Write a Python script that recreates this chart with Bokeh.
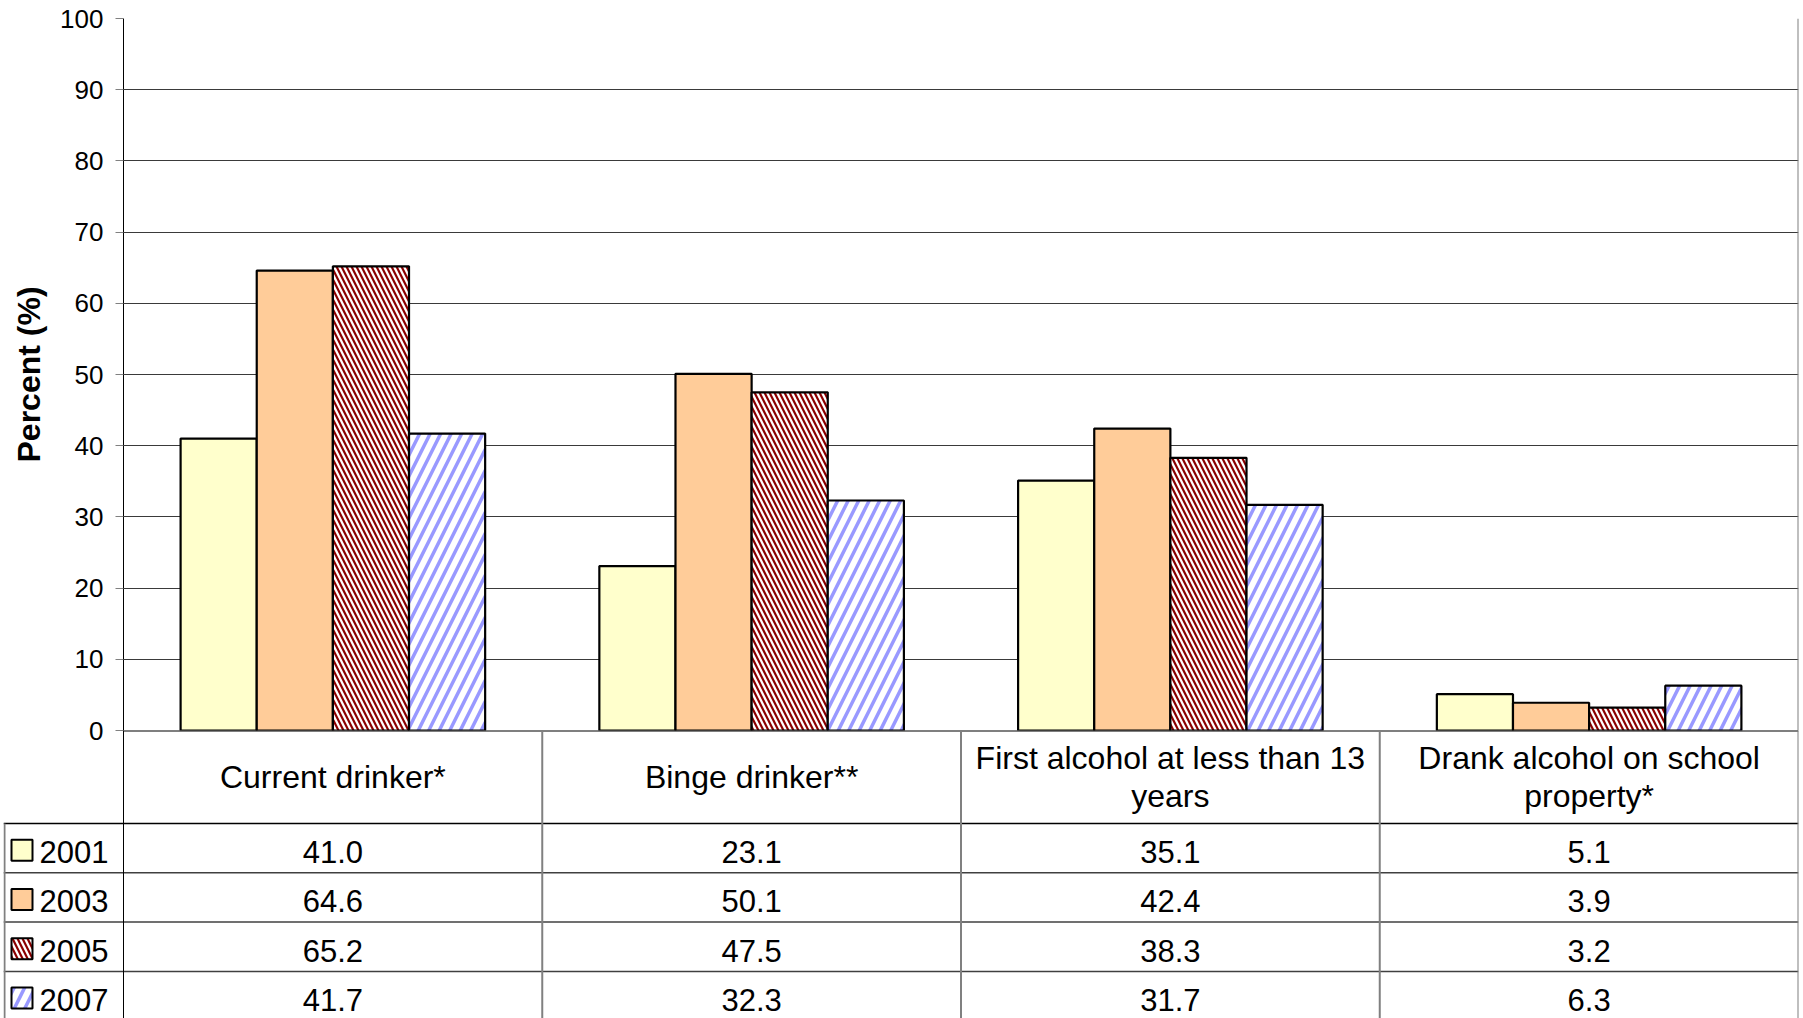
from bokeh.plotting import figure
from bokeh.models import Range1d, FactorRange, ColumnDataSource, FixedTicker, Span
from bokeh.transform import dodge
from bokeh.embed import file_html
from bokeh.resources import INLINE
from bokeh.core.properties import value

# ---------------- data ----------------
categories = ["Current drinker*", "Binge drinker**",
              "First alcohol at less than 13 years", "Drank alcohol on school property*"]
header_labels = ["Current drinker*", "Binge drinker**",
                 "First alcohol at less than 13\nyears", "Drank alcohol on school\nproperty*"]
years = ["2001", "2003", "2005", "2007"]
v2001 = [41.0, 23.1, 35.1, 5.1]
v2003 = [64.6, 50.1, 42.4, 3.9]
v2005 = [65.2, 47.5, 38.3, 3.2]
v2007 = [41.7, 32.3, 31.7, 6.3]
y_ticks = list(range(0, 101, 10))
y_label = "Percent (%)"

series = {"2001": v2001, "2003": v2003, "2005": v2005, "2007": v2007}

# ---------------- styles ----------------
FONT = "Liberation Sans"
styles = {
    "2001": dict(fill_color="#FFFFCC"),
    "2003": dict(fill_color="#FFCC99"),
    "2005": dict(fill_color="white", hatch_pattern="\\", hatch_color="#8B0000",
                 hatch_scale=10, hatch_weight=2.2),
    "2007": dict(fill_color="white", hatch_pattern="/", hatch_color="#9999FF",
                 hatch_scale=21, hatch_weight=3.5),
}

W = 1803
BOT = 16                 # room below chart frame for the "0" tick label
H1 = 730 + BOT
H2 = 288
BW = 1.0 / 5.5           # bar width in category units (gap width 150%)
offsets = [(-1.5 + j) * BW for j in range(len(years))]

src = ColumnDataSource(dict(cat=categories, **series))

# ---------------- chart ----------------
p = figure(width=W, height=H1,
           x_range=FactorRange(factors=categories, range_padding=0),
           y_range=Range1d(0, 100),
           output_backend="svg", toolbar_location=None,
           x_axis_location=None,
           min_border_left=123, min_border_right=5,
           min_border_top=18, min_border_bottom=BOT)
p.outline_line_color = None
p.background_fill_color = "white"
p.border_fill_color = "white"

p.ygrid.ticker = FixedTicker(ticks=y_ticks)
p.ygrid.grid_line_color = "#3a3a3a"
p.ygrid.grid_line_width = 1
p.xgrid.visible = False

for j, yr in enumerate(years):
    p.vbar(x=dodge("cat", offsets[j], range=p.x_range), top=yr, bottom=0,
           width=BW, source=src, line_color="black", line_width=2.2,
           **styles[yr])

p.add_layout(Span(location=4, dimension="height", line_color="#808080", line_width=2))

ax = p.yaxis[0]
ax.ticker = FixedTicker(ticks=y_ticks)
ax.axis_label = y_label
ax.axis_label_text_font = FONT
ax.axis_label_text_font_style = "bold"
ax.axis_label_text_font_size = "32px"
ax.axis_label_text_color = "black"
ax.axis_label_standoff = 10
ax.major_label_text_font = FONT
ax.major_label_text_font_size = "26px"
ax.major_label_text_color = "black"
ax.major_label_standoff = 12
ax.major_tick_out = 8
ax.major_tick_in = 0
ax.minor_tick_out = 0
ax.minor_tick_in = 0
ax.major_tick_line_color = "#808080"
ax.axis_line_color = "black"

# ---------------- data table ----------------
PXU = (W - 123 - 5) / 4.0      # pixels per category
LEG = 120 / PXU                # legend column width
ROW = 49.3
HDR = 93 / ROW
TXT_DY = 4 / ROW               # text sits slightly below row centre

t = figure(width=W, height=H2,
           x_range=Range1d(-LEG, 4), y_range=Range1d(-H2 / ROW, 0),
           output_backend="svg", toolbar_location=None,
           x_axis_location=None, y_axis_location=None,
           min_border_left=3, min_border_right=5,
           min_border_top=0, min_border_bottom=0,
           margin=(-BOT, 0, 0, 0))
t.outline_line_color = None
t.grid.visible = False
t.background_fill_color = None
t.border_fill_color = None

bottom = -H2 / ROW
n = len(categories)
# horizontal lines
t.segment(x0=[0], y0=[0], x1=[n], y1=[0], line_color="black", line_width=2)
t.segment(x0=[-LEG], y0=[-HDR], x1=[n], y1=[-HDR], line_color="black", line_width=1.5)
t.segment(x0=[-LEG] * 3, y0=[-HDR - k for k in range(1, 4)],
          x1=[n] * 3, y1=[-HDR - k for k in range(1, 4)],
          line_color="#404040", line_width=1.5)
# vertical lines
t.segment(x0=[-LEG + 1 / PXU], y0=[-HDR], x1=[-LEG + 1 / PXU], y1=[bottom],
          line_color="#808080", line_width=2)
t.segment(x0=[0], y0=[0], x1=[0], y1=[bottom], line_color="black", line_width=1)
t.segment(x0=list(range(1, n + 1)), y0=[0] * n, x1=list(range(1, n + 1)), y1=[bottom] * n,
          line_color="#808080", line_width=2)

# header texts
t.text(x=[i + 0.5 for i in range(n)], y=[-HDR / 2] * n, text=header_labels,
       text_align="center", text_baseline="middle",
       text_font=value(FONT), text_font_size="32px", text_color="black",
       text_line_height=1.08)

# value rows + legend keys
for j, yr in enumerate(years):
    yc = -HDR - (j + 0.5)
    t.text(x=[i + 0.5 for i in range(n)], y=[yc - TXT_DY] * n,
           text=["%.1f" % v for v in series[yr]],
           text_align="center", text_baseline="middle",
           text_font=value(FONT), text_font_size="31px", text_color="black")
    t.rect(x=[-LEG + 18.5 / PXU], y=[yc - 2 / ROW], width=21, height=21,
           width_units="screen", height_units="screen",
           line_color="black", line_width=2, **styles[yr])
    t.text(x=[-LEG + 36 / PXU], y=[yc - TXT_DY], text=[yr],
           text_align="left", text_baseline="middle",
           text_font=value(FONT), text_font_size="31px", text_color="black")

open("out.html", "w").write(file_html([p, t], INLINE))
